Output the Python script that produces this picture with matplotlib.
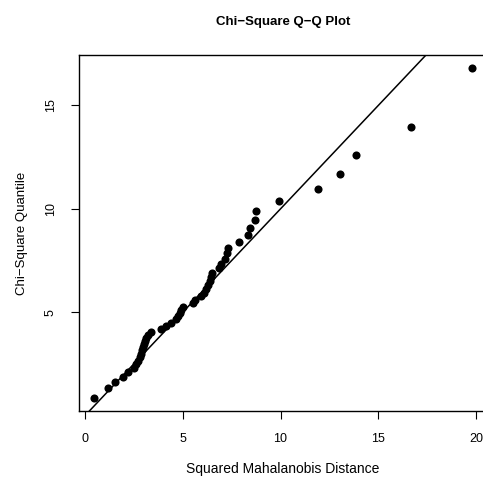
import matplotlib
matplotlib.use("Agg")
import matplotlib.pyplot as plt

plt.rcParams['font.family'] = ['Liberation Sans', 'DejaVu Sans']

# sorted squared Mahalanobis distances
maha_d2 = [0.46, 1.19, 1.55, 1.93, 2.22, 2.50, 2.62, 2.72, 2.80, 2.86,
           2.92, 2.97, 3.02, 3.08, 3.14, 3.22, 3.38, 3.90, 4.15, 4.40,
           4.65, 4.75, 4.85, 4.92, 5.00, 5.50, 5.60, 5.95, 6.10, 6.20,
           6.30, 6.38, 6.42, 6.50, 6.85, 6.95, 7.15, 7.25, 7.32, 7.88,
           8.35, 8.44, 8.70, 8.72, 9.90, 11.90, 13.03, 13.88, 16.68, 19.78]

# chi-square (df = 6) quantiles
chisq_q = [0.872, 1.325, 1.633, 1.882, 2.101, 2.299, 2.485, 2.660, 2.828, 2.991,
           3.148, 3.302, 3.454, 3.605, 3.753, 3.902, 4.049, 4.197, 4.346, 4.495,
           4.646, 4.798, 4.952, 5.109, 5.268, 5.430, 5.595, 5.765, 5.940, 6.122,
           6.306, 6.498, 6.698, 6.905, 7.121, 7.350, 7.587, 7.845, 8.117, 8.405,
           8.723, 9.069, 9.452, 9.880, 10.370, 10.954, 11.663, 12.592, 13.970, 16.812]

xticks = [0, 5, 10, 15, 20]
yticks = [5, 10, 15]

W, H = 483, 479
fig = plt.figure(figsize=(W/100, H/100), dpi=100)
ax = fig.add_axes([79/W, 68/H, (487-79)/W, (411-55)/H])

ax.scatter(maha_d2, chisq_q, s=34, color='black', zorder=3, linewidths=0)
ax.axline((0, 0), slope=1, color='black', lw=1.1)

ax.set_xlim(-0.31, 20.56)
ax.set_ylim(0.22, 17.44)
ax.set_xticks(xticks)
ax.set_yticks(yticks)
ax.set_yticklabels([str(t) for t in yticks], rotation=90, va='center')
ax.tick_params(direction='out', length=6, width=0.8, labelsize=9, pad=10)
for s in ax.spines.values():
    s.set_linewidth(1.0)

ax.set_xlabel('Squared Mahalanobis Distance', fontsize=10, labelpad=12)
ax.set_ylabel('Chi\u2212Square Quantile', fontsize=9.5, labelpad=12)
fig.text((79+487)/2/W, 1-22/H, 'Chi\u2212Square Q\u2212Q Plot', ha='center', va='center',
         fontsize=9.5, fontweight='bold')

fig.savefig('out.png', dpi=100)
